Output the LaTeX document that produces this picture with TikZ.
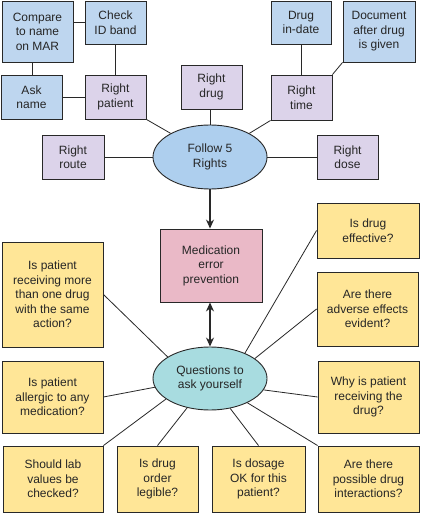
\documentclass[tikz,border=0pt]{standalone}
\usepackage{fontspec}
\setmainfont{Liberation Sans}
\usetikzlibrary{arrows.meta,shapes.geometric}
\definecolor{cblue}{RGB}{190,214,239}
\definecolor{clav}{RGB}{220,211,234}
\definecolor{cpink}{RGB}{234,185,199}
\definecolor{cyel}{RGB}{255,230,151}
\definecolor{cteal}{RGB}{168,220,224}
\definecolor{cfol}{RGB}{174,207,238}
\definecolor{cline}{RGB}{40,40,40}
\begin{document}
\begin{tikzpicture}[x=1pt,y=-1pt,
  base/.style={draw=cline,line width=0.9pt,inner sep=0pt,align=center,
    font=\fontsize{12}{14.5}\selectfont,text=black!85},
  bluebox/.style={base,rectangle,fill=cblue},
  lavbox/.style={base,rectangle,fill=clav},
  yelbox/.style={base,rectangle,fill=cyel},
  pinkbox/.style={base,rectangle,fill=cpink},
  oval/.style={base,ellipse,minimum width=114pt,minimum height=64pt},
  conn/.style={draw=cline,line width=0.8pt},
  arr/.style={draw=cline,line width=1.1pt,-{Stealth[length=9pt,width=8pt]}},
  darr/.style={draw=cline,line width=1.1pt,{Stealth[length=9pt,width=8pt]}-{Stealth[length=9pt,width=8pt]}}
]
\useasboundingbox (0,0) rectangle (421,521);
\fill[white] (0,0) rectangle (421,521);

% top cluster
\node[bluebox,minimum width=71pt,minimum height=61pt] (cmp) at (37.5,31.5) {Compare\\to name\\on MAR};
\node[bluebox,minimum width=61pt,minimum height=43pt] (chk) at (115.5,22.5) {Check\\ID band};
\node[bluebox,minimum width=61pt,minimum height=44pt] (ask) at (31.5,97) {Ask\\name};
\node[lavbox,minimum width=61pt,minimum height=44pt] (rpat) at (115.5,97) {Right\\patient};
\node[lavbox,minimum width=61pt,minimum height=44pt] (rdrug) at (211.5,87) {Right\\drug};
\node[bluebox,minimum width=60pt,minimum height=43pt] (din) at (301,22.5) {Drug\\in-date};
\node[bluebox,minimum width=72pt,minimum height=61pt] (doc) at (379,31.5) {Document\\after drug\\is given};
\node[lavbox,minimum width=61pt,minimum height=45pt] (rtime) at (301.5,97.5) {Right\\time};
\node[lavbox,minimum width=62pt,minimum height=44pt] (rroute) at (73,157) {Right\\route};
\node[oval,fill=cfol] (f) at (210,157) {Follow 5\\Rights};
\node[lavbox,minimum width=61pt,minimum height=44pt] (rdose) at (347.5,157) {Right\\dose};

% center
\node[pinkbox,minimum width=102pt,minimum height=73pt] (med) at (211,265.5) {Medication\\error\\prevention};
\node[oval,fill=cteal,minimum height=63pt] (q) at (210,378.5) {Questions to\\ask yourself};

% question boxes
\node[yelbox,minimum width=102pt,minimum height=55pt] (eff) at (368,230.5) {Is drug\\effective?};
\node[yelbox,minimum width=101pt,minimum height=74pt] (adv) at (367.5,309) {Are there\\adverse effects\\evident?};
\node[yelbox,minimum width=101pt,minimum height=72pt] (why) at (368.5,397) {Why is patient\\receiving the\\drug?};
\node[yelbox,minimum width=101pt,minimum height=105pt] (more) at (52.5,294.5) {Is patient\\receiving more\\than one drug\\with the same\\action?};
\node[yelbox,minimum width=101pt,minimum height=72pt] (all) at (52.5,397) {Is patient\\allergic to any\\medication?};
\node[yelbox,minimum width=100pt,minimum height=66pt] (lab) at (53,479) {Should lab\\values be\\checked?};
\node[yelbox,minimum width=81pt,minimum height=66pt] (leg) at (157.5,479) {Is drug\\order\\legible?};
\node[yelbox,minimum width=93pt,minimum height=66pt] (dos) at (258.5,479) {Is dosage\\OK for this\\patient?};
\node[yelbox,minimum width=101pt,minimum height=66pt] (pos) at (368.5,479) {Are there\\possible drug\\interactions?};

% top connectors
\draw[conn] (cmp.east |- chk.west) -- (chk.west);
\draw[conn] (ask.north -| 32,0) -- (cmp.south -| 32,0);
\draw[conn] (chk.south) -- (rpat.north);
\draw[conn] (ask.east) -- (rpat.west);
\draw[conn] (rpat.south east) -- (f.149);
\draw[conn] (rdrug.south -| f.north) -- (f.north);
\draw[conn] (din.south) -- (din.south |- rtime.north);
\draw[conn] (doc.south west) -- (rtime.north east);
\draw[conn] (rtime.south west) -- (f.31);
\draw[conn] (rroute.east) -- (f.west);
\draw[conn] (rdose.west) -- (f.east);

% arrows
\draw[arr] (f.south) -- (f.south |- med.north);
\draw[darr] (q.north |- med.south) -- (q.north);

% question connectors
\draw[conn] (eff.west) -- (q.36);
\draw[conn] (adv.west) -- (q.24);
\draw[conn] (why.west) -- (q.-12);
\draw[conn] (more.east) -- (q.153);
\draw[conn] (all.east) -- (q.189);
\draw[conn] (lab.north east) -- (q.205);
\draw[conn] (leg.north) -- (q.232);
\draw[conn] (dos.north) -- (q.304);
\draw[conn] (pos.north west) -- (q.327);
\end{tikzpicture}
\end{document}
